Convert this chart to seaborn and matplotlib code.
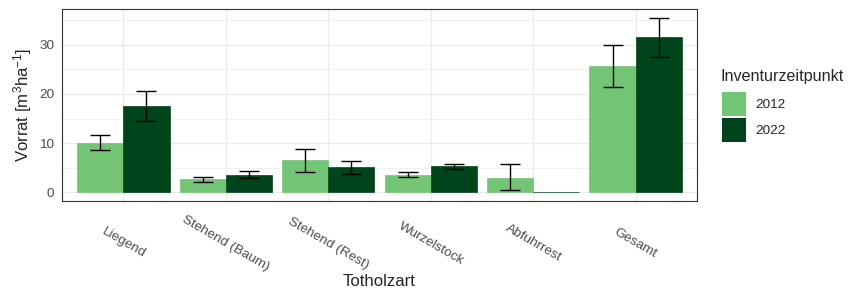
import numpy as np
import pandas as pd
import seaborn as sns
import matplotlib.pyplot as plt
from matplotlib.patches import Patch

kategorien = ["Liegend", "Stehend (Baum)", "Stehend (Rest)", "Wurzelstock", "Abfuhrrest", "Gesamt"]
jahre = ["2012", "2022"]
vorrat_2012 = [10.1, 2.6, 6.5, 3.6, 3.0, 25.7]
untere_2012 = [8.5, 2.0, 4.1, 3.2, 0.4, 21.4]
obere_2012 = [11.6, 3.2, 8.8, 4.2, 5.8, 30.0]
vorrat_2022 = [17.6, 3.6, 5.1, 5.3, 0.0, 31.6]
untere_2022 = [14.6, 2.9, 3.7, 4.8, np.nan, 27.6]
obere_2022 = [20.6, 4.3, 6.4, 5.8, np.nan, 35.5]
farben = ["#74C476", "#00441B"]

df = pd.DataFrame({
    "Totholzart": kategorien * 2,
    "Inventurzeitpunkt": [jahre[0]] * 6 + [jahre[1]] * 6,
    "Vorrat": vorrat_2012 + vorrat_2022,
    "unten": untere_2012 + untere_2022,
    "oben": obere_2012 + obere_2022,
})

sns.set_style("white")
plt.rcParams["font.family"] = ["Liberation Sans", "DejaVu Sans"]
plt.rcParams["mathtext.fontset"] = "custom"
plt.rcParams["mathtext.rm"] = "Liberation Sans"
plt.rcParams["mathtext.it"] = "Liberation Sans"

klein = 9.7
gross = 12.1

fig = plt.figure(figsize=(8.48, 2.88), dpi=100)
ax = fig.add_axes([62 / 848, 1 - 201 / 288, 635 / 848, 192 / 288])

sns.barplot(data=df, x="Totholzart", y="Vorrat", hue="Inventurzeitpunkt",
            palette=farben, width=0.9, errorbar=None, saturation=1,
            ax=ax, legend=False, zorder=2)
for p in ax.patches:
    p.set_edgecolor(p.get_facecolor())
    p.set_linewidth(0.5)

# Fehlerbalken an die Balkenmitten haengen
for jahr, cont in zip(jahre, ax.containers):
    sub = df[df["Inventurzeitpunkt"] == jahr]
    xs = [b.get_x() + b.get_width() / 2 for b in cont]
    mitte = (sub["unten"].values + sub["oben"].values) / 2
    halb = (sub["oben"].values - sub["unten"].values) / 2
    ax.errorbar(xs, mitte, yerr=halb, fmt="none", ecolor="black",
                elinewidth=1.0, capsize=7.5, capthick=1.0, zorder=3)

ax.set_xlim(-0.6, 5.6)
ax.set_ylim(-1.78, 37.3)
ax.set_yticks([0, 10, 20, 30])
ax.set_yticks([5, 15, 25, 35], minor=True)
ax.grid(True, which="major", color="#EBEBEB", linewidth=1.0, zorder=0)
ax.grid(True, which="minor", axis="y", color="#EBEBEB", linewidth=0.5, zorder=0)
ax.set_axisbelow(True)
for s in ax.spines.values():
    s.set_color("#333333")
    s.set_linewidth(0.8)

ax.tick_params(axis="both", which="major", length=3.5, width=0.8, color="#333333",
               labelsize=klein, labelcolor="#4D4D4D")
ax.tick_params(axis="y", which="minor", length=0)
ax.tick_params(axis="x", pad=27)
ax.tick_params(axis="y", pad=2)
for lab in ax.get_xticklabels():
    lab.set_rotation(-30)
    lab.set_ha("center")
    lab.set_va("center")

ax.set_xlabel("Totholzart", fontsize=gross)
ax.xaxis.set_label_coords(0.5, -0.443)
ax.xaxis.label.set_va("baseline")
ax.set_ylabel("Vorrat [m$^3$ha$^{-1}$]", fontsize=gross)
ax.yaxis.set_label_coords(-0.062, 0.5)
ax.yaxis.label.set_va("center")

fig.text(721 / 848, 1 - 76 / 288, "Inventurzeitpunkt", fontsize=11.6,
         ha="left", va="center")
handles = [Patch(facecolor=c, edgecolor="none") for c in farben]
fig.legend(handles, jahre, loc="upper left",
           bbox_to_anchor=(722 / 848, 1 - 92 / 288), frameon=False,
           fontsize=klein, handlelength=1.79, handleheight=2.36,
           labelspacing=0.15, handletextpad=0.67, borderaxespad=0, borderpad=0)

fig.savefig("out.png", dpi=100)
